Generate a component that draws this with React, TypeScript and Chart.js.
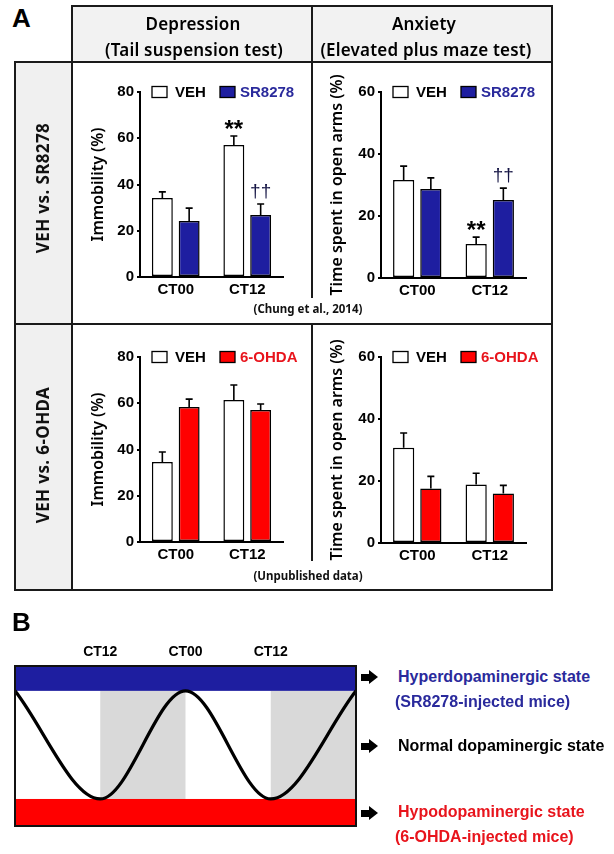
import React, { useEffect, useRef } from 'react';
import { Chart, registerables } from 'chart.js';

Chart.register(...registerables);

// ---------- DATA ----------
const categories = ['CT00', 'CT12'];

// Row 1: VEH vs. SR8278 (Chung et al., 2014)
const tstVehA = [34.2, 57.1];
const tstVehAErr = [2.6, 3.9];
const tstSR = [24.2, 26.8];
const tstSRErr = [5.6, 4.8];
const epmVehA = [31.6, 11.0];
const epmVehAErr = [4.5, 2.2];
const epmSR = [28.7, 25.2];
const epmSRErr = [3.6, 3.8];

// Row 2: VEH vs. 6-OHDA (unpublished)
const tstVehB = [34.6, 61.4];
const tstVehBErr = [4.3, 6.5];
const tstOH = [58.4, 57.1];
const tstOHErr = [3.4, 2.6];
const epmVehB = [30.7, 18.9];
const epmVehBErr = [4.8, 3.6];
const epmOH = [17.6, 16.0];
const epmOHErr = [3.9, 2.6];

const vehMarksA = ['', '**'];
const srMarks = ['', '††'];
const noMarks = ['', ''];

const tstMax = 80;
const epmMax = 60;
const tickStep = 20;

// Panel B schematic
const rhythmHours = [0, 12, 24, 36, 48];
const rhythmLevel = [1, 0, 1, 0, 1];
const phaseTickHours = [12, 24, 36];
const phaseTickLabels = ['CT12', 'CT00', 'CT12'];
const nightStart = [12, 36];
const nightEnd = [24, 48];
const hyperBand = [1, 1.23];
const hypoBand = [-0.25, 0];

// ---------- STYLE ----------
const ARIAL = '"Liberation Sans", Arial, sans-serif';
const NOTO = '"Noto Sans", sans-serif';
const BLUE = '#1e1ea0';
const BLUE_TXT = '#2a2a9c';
const RED = '#ff0000';
const RED_TXT = '#e8141c';
const LEG_BOX_X = [12, 80];
const LEG_TEXT_X = [35, 100];

const barExtras = {
  id: 'barExtras',
  afterDatasetsDraw(chart: any) {
    const { ctx, chartArea, scales } = chart;
    const ys = scales.y;
    ctx.save();
    chart.data.datasets.forEach((ds: any, i: number) => {
      const meta = chart.getDatasetMeta(i);
      meta.data.forEach((bar: any, j: number) => {
        const v = ds.data[j];
        const e = ds.errors[j];
        const yTop = bar.y;
        const yE = ys.getPixelForValue(v + e);
        ctx.strokeStyle = '#000';
        ctx.lineWidth = 1.6;
        ctx.beginPath();
        ctx.moveTo(bar.x, yTop);
        ctx.lineTo(bar.x, yE);
        ctx.moveTo(bar.x - 3.5, yE);
        ctx.lineTo(bar.x + 3.5, yE);
        ctx.stroke();
        const m = ds.marks[j];
        if (m) {
          ctx.textAlign = 'center';
          ctx.textBaseline = 'alphabetic';
          if (m === '**') {
            ctx.font = `bold 24px ${ARIAL}`;
            ctx.fillStyle = '#000';
            ctx.fillText(m, bar.x, yE + 1);
          } else {
            ctx.font = `19px ${ARIAL}`;
            ctx.fillStyle = '#151545';
            ctx.fillText(m, bar.x, yE - 7);
          }
        }
      });
      // legend inside plot
      const bx = chartArea.left + LEG_BOX_X[i];
      const cy = chartArea.top;
      ctx.fillStyle = ds.backgroundColor;
      ctx.fillRect(bx, cy - 5.5, 15, 11);
      ctx.lineWidth = 1.3;
      ctx.strokeStyle = '#000';
      ctx.strokeRect(bx, cy - 5.5, 15, 11);
      ctx.font = `bold 15px ${ARIAL}`;
      ctx.fillStyle = ds.legendColor;
      ctx.textAlign = 'left';
      ctx.textBaseline = 'middle';
      ctx.fillText(ds.label, chartArea.left + LEG_TEXT_X[i], cy + 0.5);
    });
    ctx.restore();
  },
};

type BarProps = {
  left: number; top: number; w: number; h: number;
  axisW: number; areaTop: number; padRight: number; xAxisH: number; titlePad: number;
  yMax: number; yTitle: string;
  veh: number[]; vehErr: number[]; vehMarks: string[];
  drugLabel: string; drug: number[]; drugErr: number[]; drugMarks: string[];
  drugColor: string; drugText: string;
};

function BarPanel(p: BarProps) {
  const ref = useRef<HTMLCanvasElement>(null);
  useEffect(() => {
    const tickFont = { family: ARIAL, size: 15, weight: 'bold' as const };
    const chart = new Chart(ref.current as HTMLCanvasElement, {
      type: 'bar',
      data: {
        labels: categories,
        datasets: [
          {
            label: 'VEH', data: p.veh, errors: p.vehErr, marks: p.vehMarks,
            backgroundColor: '#ffffff', borderColor: '#000', borderWidth: 1.5, borderSkipped: false,
            legendColor: '#000', categoryPercentage: 0.75, barPercentage: 0.78,
          } as any,
          {
            label: p.drugLabel, data: p.drug, errors: p.drugErr, marks: p.drugMarks,
            backgroundColor: p.drugColor, borderColor: '#000', borderWidth: 1.5, borderSkipped: false,
            legendColor: p.drugText, categoryPercentage: 0.75, barPercentage: 0.78,
          } as any,
        ],
      },
      options: {
        responsive: false,
        animation: false,
        layout: { padding: { top: p.areaTop, right: p.padRight, left: 0, bottom: 0 } },
        plugins: { legend: { display: false }, tooltip: { enabled: false } },
        scales: {
          x: {
            grid: { display: false, drawTicks: false },
            border: { display: true, color: '#000', width: 2 },
            ticks: { font: tickFont, color: '#000', padding: 4, maxRotation: 0 },
            afterFit: (s: any) => { s.height = p.xAxisH; },
          },
          y: {
            min: 0, max: p.yMax,
            ticks: { stepSize: tickStep, font: tickFont, color: '#000', padding: 3 },
            grid: { display: true, drawOnChartArea: false, drawTicks: true, tickLength: 3, color: '#000', lineWidth: 2 },
            border: { display: true, color: '#000', width: 2 },
            title: {
              display: true, text: p.yTitle, color: '#000',
              font: { family: NOTO, size: 16, weight: '600' },
              padding: { top: p.titlePad, bottom: 0 },
            },
            afterFit: (s: any) => { s.width = p.axisW; },
          },
        },
      },
      plugins: [barExtras],
    } as any);
    return () => chart.destroy();
  }, []);
  return (
    <canvas ref={ref} width={p.w} height={p.h}
      style={{ position: 'absolute', left: p.left, top: p.top, width: p.w, height: p.h }} />
  );
}

const rhythmExtras = {
  id: 'rhythmExtras',
  beforeDatasetsDraw(chart: any) {
    const { ctx, scales } = chart;
    const xs = scales.x, ys = scales.y;
    ctx.save();
    ctx.fillStyle = '#d9d9d9';
    nightStart.forEach((s, i) => {
      const x1 = xs.getPixelForValue(s), x2 = xs.getPixelForValue(nightEnd[i]);
      const y1 = ys.getPixelForValue(1), y2 = ys.getPixelForValue(0);
      ctx.fillRect(x1, y1, x2 - x1, y2 - y1);
    });
    const xa = xs.getPixelForValue(rhythmHours[0]);
    const xb = xs.getPixelForValue(rhythmHours[rhythmHours.length - 1]);
    ctx.fillStyle = BLUE;
    const hb1 = ys.getPixelForValue(hyperBand[1]), hb0 = ys.getPixelForValue(hyperBand[0]);
    ctx.fillRect(xa, hb1, xb - xa, hb0 - hb1);
    ctx.fillStyle = RED;
    const lb1 = ys.getPixelForValue(hypoBand[1]), lb0 = ys.getPixelForValue(hypoBand[0]);
    ctx.fillRect(xa, lb1, xb - xa, lb0 - lb1);
    ctx.restore();
  },
  afterDatasetsDraw(chart: any) {
    const { ctx, chartArea } = chart;
    ctx.save();
    ctx.strokeStyle = '#111';
    ctx.lineWidth = 2;
    ctx.strokeRect(chartArea.left, chartArea.top, chartArea.right - chartArea.left, chartArea.bottom - chartArea.top);
    ctx.restore();
  },
};

function RhythmPanel() {
  const ref = useRef<HTMLCanvasElement>(null);
  useEffect(() => {
    const chart = new Chart(ref.current as HTMLCanvasElement, {
      type: 'line',
      data: {
        datasets: [{
          data: rhythmHours.map((h, i) => ({ x: h, y: rhythmLevel[i] })),
          borderColor: '#000', borderWidth: 3.2, pointRadius: 0,
          cubicInterpolationMode: 'monotone', fill: false,
        }],
      },
      options: {
        responsive: false,
        animation: false,
        layout: { padding: { left: 10, right: 9, top: 0, bottom: 4 } },
        plugins: { legend: { display: false }, tooltip: { enabled: false } },
        scales: {
          x: {
            type: 'linear', position: 'top', min: 0, max: 48,
            afterBuildTicks: (s: any) => { s.ticks = phaseTickHours.map((v) => ({ value: v })); },
            ticks: {
              autoSkip: false, maxRotation: 0, padding: 5, color: '#000',
              font: { family: ARIAL, size: 14, weight: 'bold' },
              callback: (_v: any, i: number) => phaseTickLabels[i],
            },
            grid: { display: false, drawTicks: false },
            border: { display: false },
            afterFit: (s: any) => { s.height = 36; },
          },
          y: { type: 'linear', min: hypoBand[0], max: hyperBand[1], display: false },
        },
      },
      plugins: [rhythmExtras],
    } as any);
    return () => chart.destroy();
  }, []);
  return (
    <canvas ref={ref} width={360} height={200}
      style={{ position: 'absolute', left: 5, top: 630, width: 360, height: 200 }} />
  );
}

// ---------- HTML helpers ----------
type TxtProps = {
  x: number; y: number; align?: 'left' | 'center'; size: number; weight?: number | string;
  color?: string; family?: string; spacing?: number; children: React.ReactNode;
};
function Txt({ x, y, align = 'left', size, weight = 400, color = '#000', family = ARIAL, spacing = 0, children }: TxtProps) {
  const H = 40;
  const style: React.CSSProperties = {
    position: 'absolute', top: y - H / 2, height: H, lineHeight: `${H}px`, fontSize: size,
    fontWeight: weight as any, color, fontFamily: family, letterSpacing: spacing, whiteSpace: 'nowrap',
  };
  if (align === 'center') { style.left = x - 300; style.width = 600; style.textAlign = 'center'; }
  else { style.left = x; }
  return <div style={style}>{children}</div>;
}

function VTxt({ x, y, children }: { x: number; y: number; children: React.ReactNode }) {
  return (
    <div style={{
      position: 'absolute', left: x - 150, top: y - 20, width: 300, height: 40, lineHeight: '40px',
      textAlign: 'center', transform: 'rotate(-90deg)', fontFamily: NOTO, fontSize: 17, fontWeight: 700,
      letterSpacing: 0.4, color: '#111', whiteSpace: 'nowrap',
    }}>{children}</div>
  );
}

const LINE = '#1a1a1a';
function HL({ x1, x2, y }: { x1: number; x2: number; y: number }) {
  return <div style={{ position: 'absolute', left: x1 - 1, top: y - 1, width: x2 - x1 + 2, height: 2, background: LINE }} />;
}
function VL({ x, y1, y2 }: { x: number; y1: number; y2: number }) {
  return <div style={{ position: 'absolute', left: x - 1, top: y1 - 1, width: 2, height: y2 - y1 + 2, background: LINE }} />;
}

function Arrow({ x, y }: { x: number; y: number }) {
  return (
    <div style={{ position: 'absolute', left: x, top: y - 7, width: 17, height: 14 }}>
      <div style={{ position: 'absolute', left: 0, top: 3.5, width: 9, height: 7, background: '#000' }} />
      <div style={{
        position: 'absolute', left: 8, top: 0, width: 0, height: 0,
        borderLeft: '9px solid #000', borderTop: '7px solid transparent', borderBottom: '7px solid transparent',
      }} />
    </div>
  );
}

export default function App() {
  return (
    <div style={{ position: 'absolute', left: 0, top: 0, width: 614, height: 854, background: '#fff', overflow: 'hidden' }}>
      {/* table fills */}
      <div style={{ position: 'absolute', left: 72, top: 6, width: 480, height: 56, background: '#f2f2f2' }} />
      <div style={{ position: 'absolute', left: 15, top: 62, width: 57, height: 528, background: '#f0f0f0' }} />

      <BarPanel left={76} top={64} w={234} h={232} axisW={64} areaTop={28} padRight={27} xAxisH={19} titlePad={12.4}
        yMax={tstMax} yTitle="Immobility (%)"
        veh={tstVehA} vehErr={tstVehAErr} vehMarks={vehMarksA}
        drugLabel="SR8278" drug={tstSR} drugErr={tstSRErr} drugMarks={srMarks} drugColor={BLUE} drugText={BLUE_TXT} />
      <BarPanel left={316} top={64} w={234} h={232} axisW={65} areaTop={28} padRight={24} xAxisH={18} titlePad={11.4}
        yMax={epmMax} yTitle="Time spent in open arms (%)"
        veh={epmVehA} vehErr={epmVehAErr} vehMarks={vehMarksA}
        drugLabel="SR8278" drug={epmSR} drugErr={epmSRErr} drugMarks={srMarks} drugColor={BLUE} drugText={BLUE_TXT} />
      <BarPanel left={76} top={329} w={234} h={232} axisW={64} areaTop={28} padRight={27} xAxisH={19} titlePad={12.4}
        yMax={tstMax} yTitle="Immobility (%)"
        veh={tstVehB} vehErr={tstVehBErr} vehMarks={noMarks}
        drugLabel="6-OHDA" drug={tstOH} drugErr={tstOHErr} drugMarks={noMarks} drugColor={RED} drugText={RED_TXT} />
      <BarPanel left={316} top={329} w={234} h={232} axisW={65} areaTop={28} padRight={24} xAxisH={18} titlePad={11.4}
        yMax={epmMax} yTitle="Time spent in open arms (%)"
        veh={epmVehB} vehErr={epmVehBErr} vehMarks={noMarks}
        drugLabel="6-OHDA" drug={epmOH} drugErr={epmOHErr} drugMarks={noMarks} drugColor={RED} drugText={RED_TXT} />

      {/* table lines */}
      <HL x1={72} x2={552} y={6} />
      <HL x1={15} x2={552} y={62} />
      <HL x1={15} x2={552} y={324} />
      <HL x1={15} x2={552} y={590} />
      <VL x={15} y1={62} y2={590} />
      <VL x={72} y1={6} y2={590} />
      <VL x={552} y1={6} y2={590} />
      <VL x={312} y1={6} y2={297} />
      <VL x={312} y1={324} y2={560} />

      {/* headers */}
      <Txt x={12} y={17.5} size={26} weight={700}>A</Txt>
      <Txt x={193} y={24} align="center" size={17} weight={600} family={NOTO} spacing={0.2} color="#000">Depression</Txt>
      <Txt x={194} y={50} align="center" size={17} weight={600} family={NOTO} spacing={0.2} color="#000">(Tail suspension test)</Txt>
      <Txt x={424} y={24} align="center" size={17} weight={600} family={NOTO} spacing={0.2} color="#000">Anxiety</Txt>
      <Txt x={426} y={50} align="center" size={17} weight={600} family={NOTO} spacing={0.2} color="#000">(Elevated plus maze test)</Txt>
      <VTxt x={43} y={188}>VEH vs. SR8278</VTxt>
      <VTxt x={43} y={455}>VEH vs. 6-OHDA</VTxt>
      <Txt x={308} y={309} align="center" size={11.5} weight={700} family={NOTO} color="#111">(Chung et al., 2014)</Txt>
      <Txt x={308} y={576} align="center" size={11.5} weight={700} family={NOTO} color="#111">(Unpublished data)</Txt>

      {/* Panel B */}
      <Txt x={12} y={621.5} size={26} weight={700}>B</Txt>
      <RhythmPanel />
      <Arrow x={361} y={677} />
      <Arrow x={361} y={746} />
      <Arrow x={361} y={813} />
      <Txt x={398} y={677} size={16} weight={700} color={BLUE_TXT}>Hyperdopaminergic state</Txt>
      <Txt x={395} y={702} size={16} weight={700} color={BLUE_TXT}>(SR8278-injected mice)</Txt>
      <Txt x={398} y={746} size={16} weight={700} color="#000">Normal dopaminergic state</Txt>
      <Txt x={398} y={812} size={16} weight={700} color={RED_TXT}>Hypodopaminergic state</Txt>
      <Txt x={395} y={837} size={16} weight={700} color={RED_TXT}>(6-OHDA-injected mice)</Txt>
    </div>
  );
}
